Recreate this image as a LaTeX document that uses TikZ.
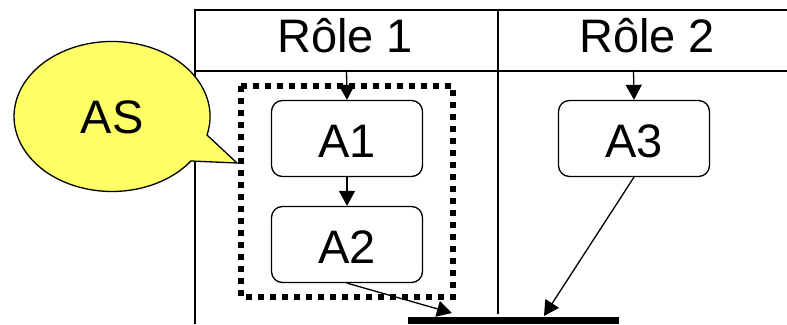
\documentclass[tikz,border=0pt]{standalone}
\usepackage{fontspec}
\setmainfont{Liberation Sans}
\usetikzlibrary{arrows.meta}
\tikzset{
  x=1pt,y=-1pt,
  tbl/.style={line width=1.4pt,draw=black},
  act/.style={draw=black,line width=1.3pt,rounded corners=11pt,minimum width=151pt,minimum height=76pt,inner sep=0pt,text height=37pt,text depth=0pt,font=\fontsize{47}{47}\selectfont},
  hdr/.style={inner sep=0pt,font=\fontsize{47}{47}\selectfont},
  arr/.style={line width=1.3pt,-{Triangle[length=15pt,width=16pt]}},
  dots/.style={line width=5.5pt,dash pattern=on 6pt off 6pt},
}
\begin{document}
\begin{tikzpicture}
\useasboundingbox (0,0) rectangle (787,324);
\draw[tbl] (195,324) -- (195,10) -- (787,10);
\draw[tbl] (195,71) -- (787,71);
\draw[tbl] (498,10) -- (498,314);
\coordinate (h1) at (346.5,70);
\coordinate (h2) at (633.5,70);
\node[hdr] at (345,36) {Rôle 1};
\node[hdr] at (647,36) {Rôle 2};
\draw[dots] (241,86) rectangle (453,297);
\node[act] (a1) at (347,138.5) {A1};
\node[act] (a2) at (347,244.5) {A2};
\node[act] (a3) at (634,138.5) {A3};
\fill (408,316.5) rectangle (619,324);
\coordinate (b1) at (452,313);
\coordinate (b2) at (544,316);
\draw[arr] (h1) -- (a1.north);
\draw[arr] (h2) -- (a3.north);
\draw[arr] (a1) -- (a2);
\draw[arr] (a2.south) -- (b1);
\draw[arr] (a3.south) -- (b2);
\draw[line width=1.3pt,fill={rgb,255:red,255;green,255;blue,102}]
  (207,135) arc[start angle=-14.3,end angle=323.6,x radius=98pt,y radius=75pt]
  -- (237,163) -- cycle;
\node[hdr] (as) at (112,117) {AS};
\end{tikzpicture}
\end{document}
